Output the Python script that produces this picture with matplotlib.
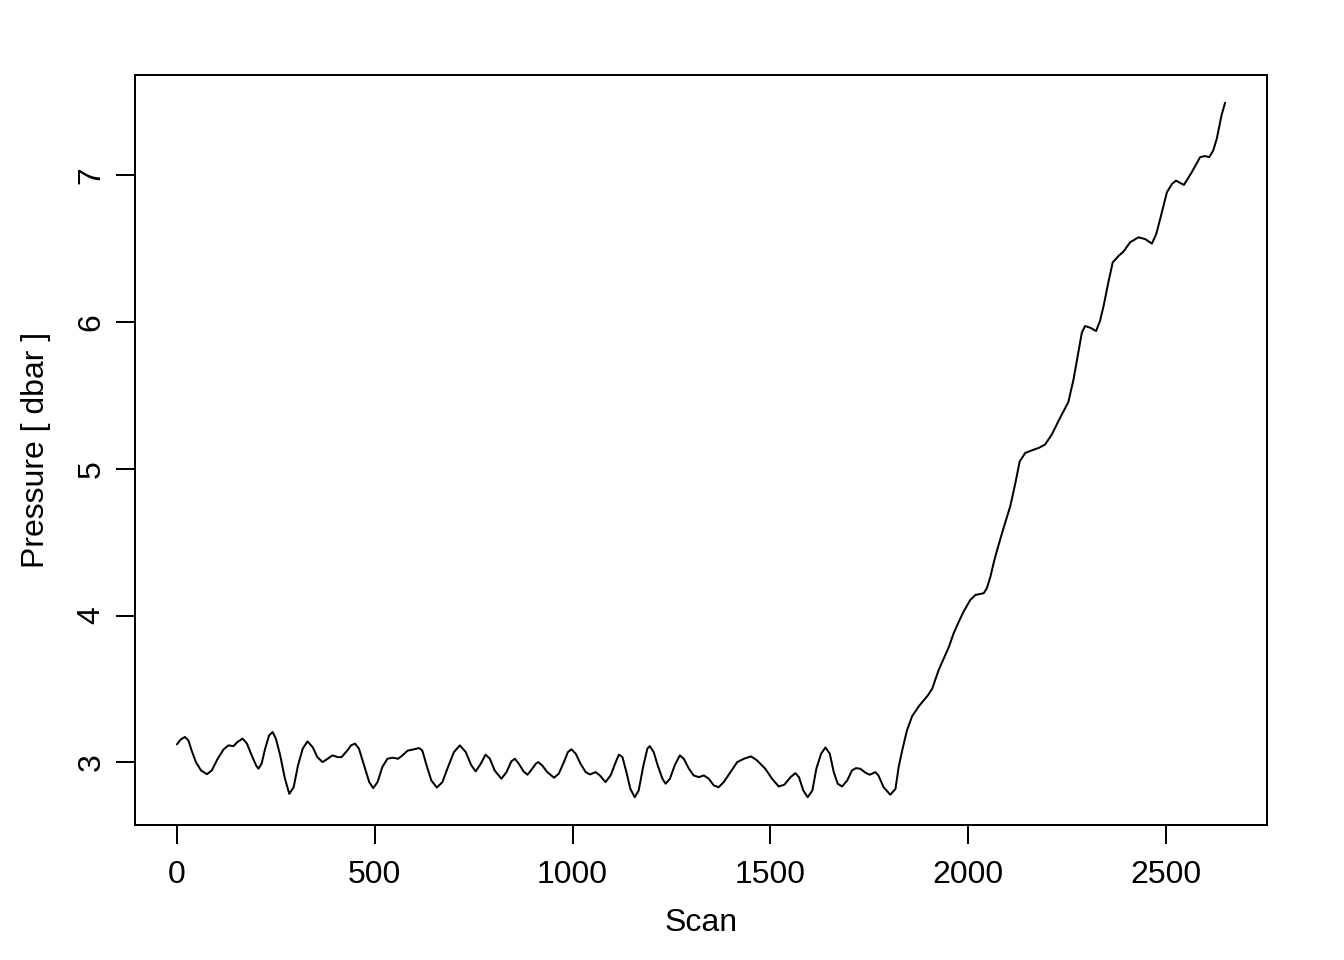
import matplotlib
matplotlib.use("Agg")
import matplotlib.pyplot as plt

scan = [0, 10, 20, 29, 37, 48, 61, 76, 88, 103, 118, 130, 143, 153, 166, 177, 189,
        200, 206, 214, 223, 233, 242, 250, 261, 273, 284, 295, 306, 318, 330, 343,
        355, 368, 381, 393, 406, 416, 431, 440, 450, 460, 473, 486, 496, 507, 519,
        532, 545, 559, 570, 583, 599, 612, 620, 631, 643, 657, 671, 685, 700, 715,
        730, 744, 755, 768, 780, 791, 803, 820, 833, 845, 854, 864, 876, 886, 898,
        907, 913, 923, 936, 953, 965, 978, 988, 997, 1008, 1020, 1033, 1044, 1058,
        1069, 1083, 1096, 1109, 1117, 1126, 1136, 1146, 1157, 1167, 1179, 1189,
        1195, 1205, 1215, 1227, 1235, 1246, 1258, 1271, 1281, 1294, 1306, 1319,
        1332, 1344, 1357, 1369, 1382, 1399, 1416, 1433, 1451, 1466, 1487, 1504,
        1521, 1535, 1551, 1563, 1572, 1583, 1594, 1606, 1616, 1628, 1639, 1650,
        1660, 1670, 1681, 1694, 1706, 1716, 1727, 1740, 1751, 1765, 1773, 1786,
        1803, 1816, 1824, 1833, 1845, 1858, 1875, 1898, 1909, 1925, 1951, 1963,
        1976, 1988, 2005, 2018, 2039, 2047, 2056, 2066, 2073, 2089, 2106, 2119,
        2130, 2144, 2161, 2178, 2194, 2211, 2232, 2253, 2266, 2275, 2287, 2295,
        2308, 2323, 2333, 2342, 2354, 2365, 2380, 2392, 2409, 2430, 2447, 2464,
        2475, 2485, 2502, 2515, 2525, 2535, 2545, 2565, 2586, 2598, 2609, 2619,
        2628, 2640, 2649]
pressure = [3.123, 3.157, 3.173, 3.150, 3.082, 3.002, 2.945, 2.920, 2.945, 3.025,
            3.089, 3.116, 3.111, 3.139, 3.162, 3.128, 3.048, 2.980, 2.957, 2.991,
            3.094, 3.184, 3.207, 3.162, 3.048, 2.889, 2.786, 2.831, 2.980, 3.094,
            3.143, 3.104, 3.036, 3.002, 3.025, 3.048, 3.036, 3.036, 3.082, 3.116,
            3.128, 3.094, 2.980, 2.866, 2.825, 2.866, 2.968, 3.025, 3.032, 3.025,
            3.048, 3.080, 3.089, 3.098, 3.082, 2.980, 2.877, 2.829, 2.866, 2.968,
            3.070, 3.116, 3.070, 2.980, 2.939, 2.991, 3.053, 3.025, 2.945, 2.889,
            2.934, 3.007, 3.025, 2.991, 2.939, 2.916, 2.957, 2.991, 3.002, 2.980,
            2.934, 2.896, 2.923, 3.002, 3.070, 3.089, 3.059, 2.991, 2.934, 2.918,
            2.934, 2.911, 2.866, 2.911, 3.002, 3.053, 3.036, 2.934, 2.820, 2.763,
            2.809, 2.980, 3.094, 3.111, 3.070, 2.980, 2.889, 2.855, 2.889, 2.980,
            3.048, 3.025, 2.957, 2.911, 2.900, 2.911, 2.889, 2.843, 2.831, 2.866,
            2.934, 3.002, 3.025, 3.041, 3.014, 2.957, 2.889, 2.836, 2.848, 2.900,
            2.927, 2.900, 2.809, 2.763, 2.809, 2.957, 3.059, 3.102, 3.059, 2.934,
            2.855, 2.836, 2.877, 2.945, 2.961, 2.957, 2.930, 2.916, 2.934, 2.911,
            2.831, 2.780, 2.820, 2.968, 3.082, 3.218, 3.314, 3.382, 3.457, 3.503,
            3.628, 3.787, 3.879, 3.958, 4.026, 4.106, 4.140, 4.152, 4.186, 4.265,
            4.379, 4.447, 4.595, 4.743, 4.902, 5.050, 5.107, 5.125, 5.141, 5.164,
            5.232, 5.346, 5.454, 5.608, 5.744, 5.926, 5.971, 5.960, 5.937, 6.006,
            6.108, 6.268, 6.404, 6.449, 6.477, 6.541, 6.575, 6.563, 6.532, 6.597,
            6.700, 6.882, 6.939, 6.961, 6.946, 6.932, 7.019, 7.121, 7.128, 7.121,
            7.166, 7.246, 7.405, 7.491]
xticks = [0, 500, 1000, 1500, 2000, 2500]
yticks = [3, 4, 5, 6, 7]

plt.rcParams['font.family'] = ['Liberation Sans', 'DejaVu Sans']
fig = plt.figure(figsize=(7, 5), dpi=192)
ax = fig.add_axes([135/1344, 1-825/960, (1267-135)/1344, (825-75)/960])
ax.plot(scan, pressure, color='black', lw=0.75,
        solid_joinstyle='round', solid_capstyle='round')

xr = max(scan) - min(scan)
yr = max(pressure) - min(pressure)
ax.set_xlim(min(scan) - 0.04*xr, max(scan) + 0.04*xr)
ax.set_ylim(min(pressure) - 0.04*yr, max(pressure) + 0.04*yr)

ax.set_xticks(xticks)
ax.set_yticks(yticks)
ax.set_xticklabels([str(v) for v in xticks])
ax.set_yticklabels([str(v) for v in yticks], rotation=90, va='center')
ax.tick_params(direction='out', length=7.2, width=0.75, labelsize=12)
ax.tick_params(axis='x', pad=5.8)
ax.tick_params(axis='y', pad=3.5)
for s in ax.spines.values():
    s.set_linewidth(0.75)
ax.set_xlabel('Scan', fontsize=12, labelpad=7)
ax.set_ylabel('Pressure [ dbar ]', fontsize=12, labelpad=9.5)

fig.savefig('out.png', dpi=192)
